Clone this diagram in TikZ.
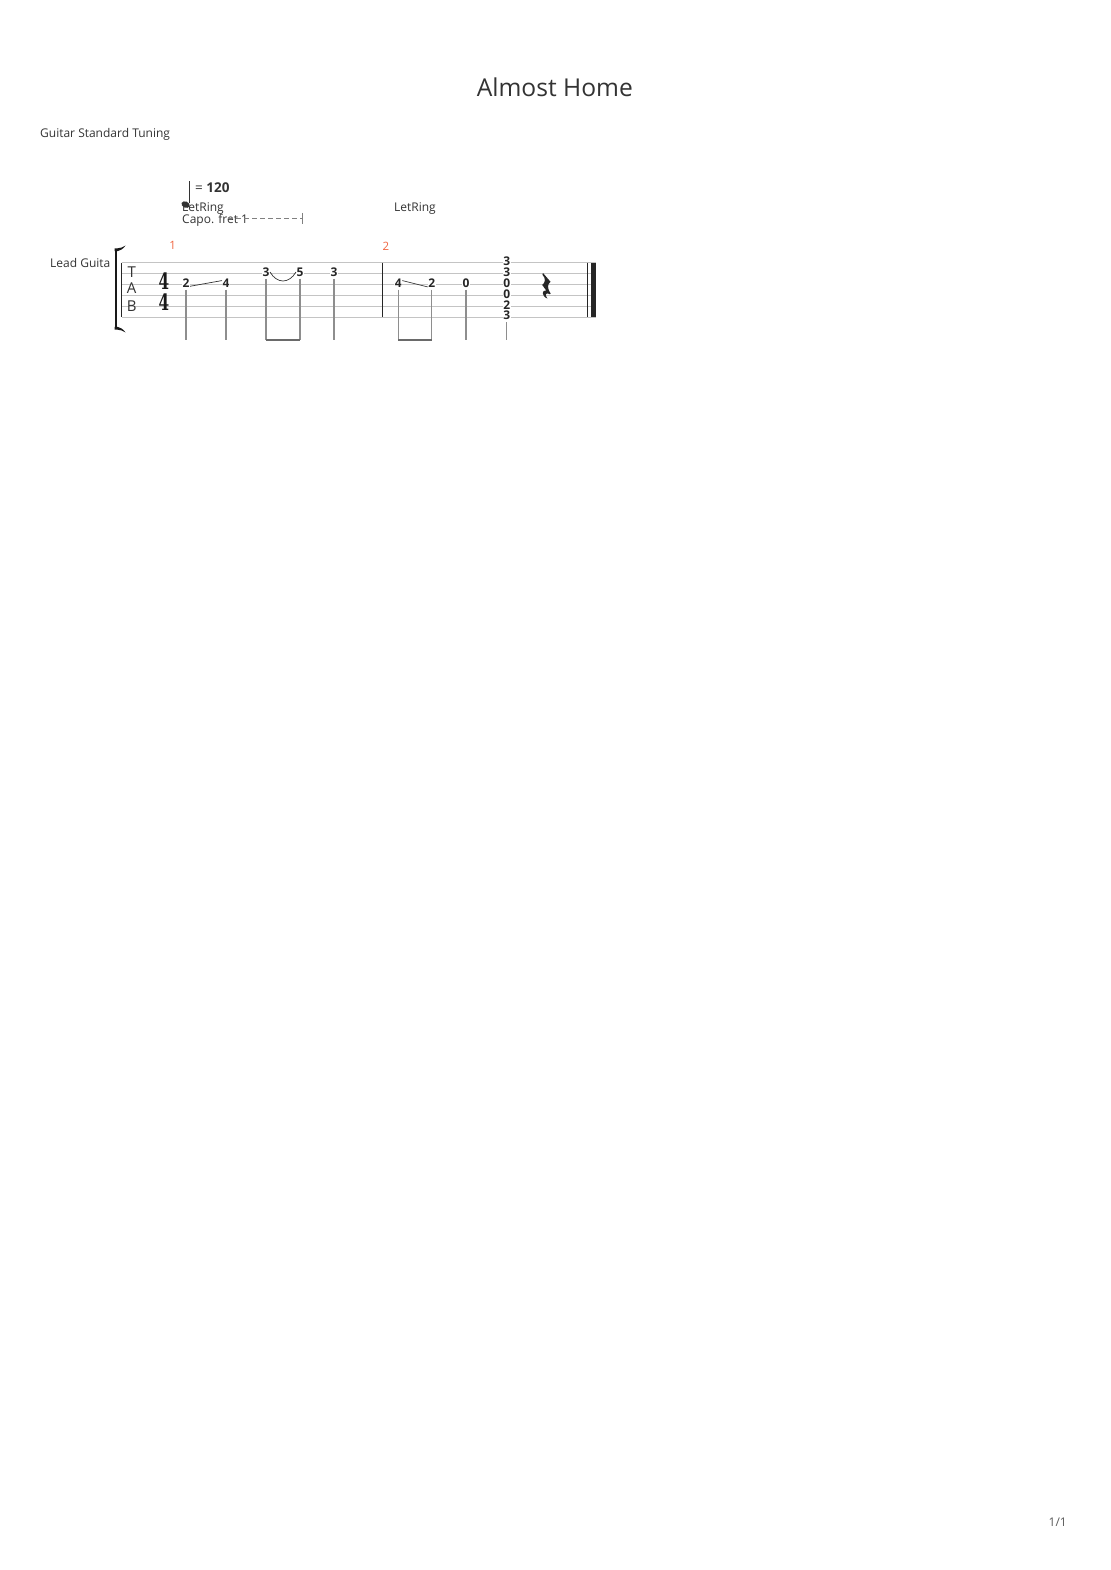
\documentclass[tikz,border=0pt]{standalone}
\usepackage{fontspec}
\usepackage{graphicx}
\usepackage{tikz}
\newfontfamily\uifont{Open Sans}
\newfontfamily\timesigfont{DejaVu Serif}
\definecolor{inkgray}{HTML}{333333}
\definecolor{measurered}{HTML}{F0643F}
\definecolor{staffgray}{HTML}{C4C4C4}
\definecolor{stemgray}{HTML}{8E8E8E}
\definecolor{beamgray}{HTML}{6A6A6A}

\begin{document}
\begin{tikzpicture}[x=1pt, y=-1pt,
    label text/.style={font=\uifont\fontsize{12}{14}\selectfont, text=inkgray, inner sep=0pt},
    fret/.style={font=\uifont\bfseries\fontsize{12}{12}\selectfont, text=black!85, fill=white, inner sep=0.4pt},
    barnum/.style={font=\uifont\fontsize{11.5}{12}\selectfont, text=measurered, inner sep=0pt},
    clef/.style={font=\uifont\fontsize{15}{15}\selectfont, text=inkgray, inner sep=0pt},
    timesig/.style={font=\timesigfont\bfseries\fontsize{22.5}{23}\selectfont, text=black!90, inner sep=0pt},
    staffline/.style={draw=staffgray, line width=0.8pt},
    stem/.style={draw=stemgray, line width=1.1pt, shorten <=1.8pt},
    beam/.style={draw=beamgray, line width=2.6pt},
    slide/.style={draw=black!80, line width=0.7pt},
    barline/.style={draw=black!85, line width=1pt}]
    \useasboundingbox (0,0) rectangle (1110,1570);

    % Header
    \node[label text, font=\uifont\fontsize{24.6}{28}\selectfont, anchor=base] (title) at (554.8,96.7) {Almost Home};
    \node[label text, anchor=base west] (tuning) at (40,137.3) {Guitar Standard Tuning};
    \node[label text, anchor=base west] (track) at (50,267) {Lead Guita};
    \node[label text, anchor=base east, text=black!65] (page) at (1067,1526) {1/1};

    % Tempo and effects
    \fill[inkgray, rotate around={-22:(185.6,204.6)}] (185.6,204.6) ellipse (4.3 and 3.1);
    \draw[inkgray, line width=0.8pt] (189.4,203.5) -- (189.4,181);
    \node[label text, font=\uifont\fontsize{13.5}{14}\selectfont, anchor=base west] (tempo) at (195,193) {= \textbf{120}};
    \node[label text, anchor=base west] (ring1) at (182,212) {LetRing};
    \node[label text, anchor=base west] (capo) at (182,223.5) {Capo. fret 1};
    \coordinate (capoend) at (302.5,218.5);
    \draw[gray, line width=0.9pt, dash pattern=on 5pt off 3pt] (228,218.5) -- (capoend);
    \draw[gray, line width=0.9pt] ([yshift=5.5pt]capoend) -- ([yshift=-5.5pt]capoend);
    \node[label text, anchor=base west] (ring2) at (394,212) {LetRing};

    % Bar numbers
    \node[barnum] (bar1) at (172.7,245.5) {1};
    \node[barnum] (bar2) at (386,246) {2};

    % Staff
    \foreach \s in {0,...,5}
        \draw[staffline] (121.7,{262.6+10.9*\s}) -- (596,{262.6+10.9*\s});

    % Bracket and bar lines
    \draw[black!90, line width=2.8pt] (116,249.5) -- (116,328.5);
    \fill[black!90] (114.6,248.3) -- (117.5,248.3) .. controls (120,248.3) and (123,247.3) .. (125.5,245.6)
        .. controls (123,249) and (120,250.8) .. (117.5,251.2) -- (114.6,251.2) -- cycle;
    \fill[black!90] (114.6,329.7) -- (117.5,329.7) .. controls (120,329.7) and (123,330.7) .. (125.5,332.4)
        .. controls (123,329) and (120,327.2) .. (117.5,326.8) -- (114.6,326.8) -- cycle;
    \draw[barline] (121.7,262.6) -- (121.7,317.1);
    \draw[barline] (382.3,262.6) -- (382.3,317.1);
    \draw[barline, line width=0.9pt] (587.5,262.6) -- (587.5,317.1);
    \fill[black!85] (591,262.6) rectangle (596,317.1);

    % TAB clef and time signature
    \node[clef] (clefT) at (131.7,272) {T};
    \node[clef] (clefA) at (131.7,288.5) {A};
    \node[clef] (clefB) at (131.7,306.5) {B};
    \node[timesig] (timetop) at (164,281.3) {\scalebox{0.68}[1]{4}};
    \node[timesig] (timebot) at (164,302.2) {\scalebox{0.68}[1]{4}};

    % Measure 1
    \node[fret] (m1a) at (186,282.9) {2};
    \node[fret] (m1b) at (226,282.9) {4};
    \node[fret] (m1c) at (266,272) {3};
    \node[fret] (m1d) at (300,272) {5};
    \node[fret] (m1e) at (334,272) {3};

    % Measure 2
    \node[fret] (m2a) at (398.3,282.9) {4};
    \node[fret] (m2b) at (431.7,282.9) {2};
    \node[fret] (m2c) at (466,282.9) {0};
    \node[fret] (m2d1) at (506.7,261.1) {3};
    \node[fret] (m2d2) at (506.7,272) {3};
    \node[fret] (m2d3) at (506.7,282.9) {0};
    \node[fret] (m2d4) at (506.7,293.8) {0};
    \node[fret] (m2d5) at (506.7,304.7) {2};
    \node[fret] (m2d6) at (506.7,315.6) {3};

    % Slides and hammer-on
    \draw[slide] (m1a.-40) -- (m1b.150);
    \draw[slide] (m2a.30) -- (m2b.225);
    \draw[slide] (m1c.east) .. controls +(7,12) and +(-7,12) .. (m1d.west);

    % Stems and beams
    \coordinate (bm) at (0,340);
    \draw[stem] (m1a) -- (m1a |- bm);
    \draw[stem] (m1b) -- (m1b |- bm);
    \draw[stem] (m1c) -- (m1c |- bm);
    \draw[stem] (m1d) -- (m1d |- bm);
    \draw[stem] (m1e) -- (m1e |- bm);
    \draw[stem] (m2a) -- (m2a |- bm);
    \draw[stem] (m2b) -- (m2b |- bm);
    \draw[stem] (m2c) -- (m2c |- bm);
    \draw[stem] (m2d6) -- (m2d6 |- bm);
    \draw[beam] (m1c |- bm) -- (m1d |- bm);
    \draw[beam] (m2a |- bm) -- (m2b |- bm);

    % Quarter rest
    \fill[black!85] (543,273) -- (550.5,281.8) .. controls (547.5,284.5) and (546.8,287.5) .. (550.6,293.4)
        -- (549.8,294.2) .. controls (546.5,292.2) and (544,294) .. (547.4,298.6)
        .. controls (541.2,296) and (541.6,289.8) .. (546.2,290.4)
        -- (542.2,285) .. controls (545.6,282.4) and (545.8,278.4) .. (542.4,274.6) -- cycle;
\end{tikzpicture}
\end{document}
